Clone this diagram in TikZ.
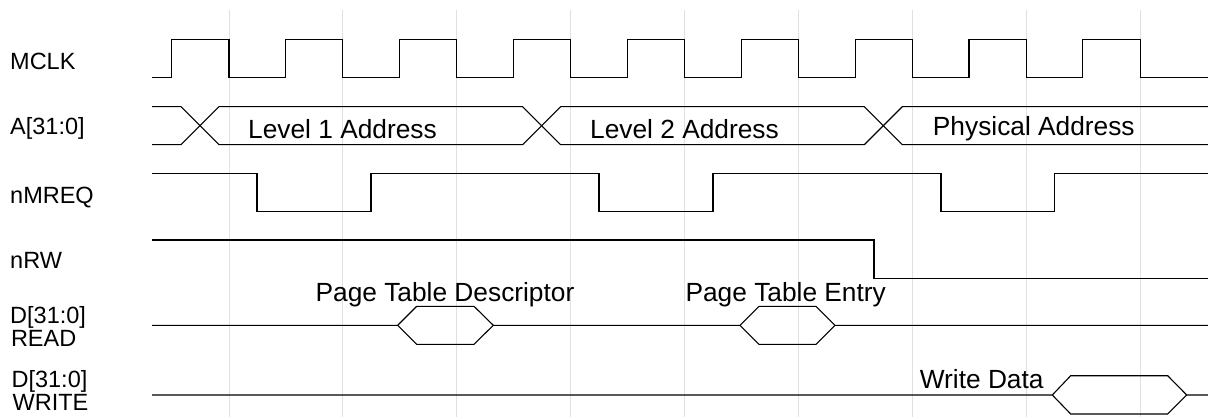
\documentclass[tikz,border=0pt]{standalone}
\usepackage{fontspec}
\setmainfont{Liberation Sans}
\begin{document}
\begin{tikzpicture}[x=1pt,y=-1pt,
  sig/.style={line width=1.1pt,black,line join=miter},
  gridline/.style={line width=1pt,color=black!12},
  lbl/.style={anchor=base west,inner sep=0pt,font=\fontsize{23.5}{26}\selectfont},
  ann/.style={anchor=base,inner sep=0pt,font=\fontsize{26.3}{30}\selectfont}]
\useasboundingbox (0,0) rectangle (1208,417);
\fill[white] (0,0) rectangle (1208,417);
% grid
\foreach \k in {0,...,8}{
  \draw[gridline] ({229+113.9*\k},10) -- ({229+113.9*\k},417);
}
% labels
\node[lbl] (lmclk) at (10,69.3) {MCLK};
\node[lbl] (laddr) at (10,135) {A[31:0]};
\node[lbl] (lmreq) at (10,203.3) {nMREQ};
\node[lbl] (lrw) at (10,268) {nRW};
\node[lbl] (ldr1) at (10,323.3) {D[31:0]};
\node[lbl] (ldr2) at (10.8,346) {READ};
\node[lbl] (ldw1) at (11.4,387.3) {D[31:0]};
\node[lbl] (ldw2) at (12.5,410.7) {WRITE};
% MCLK
\draw[sig] (152,77.7) -- (171.7,77.7) -- (171.7,39.5) -- (229,39.5) -- (229,77.7)
  -- (285.6,77.7) -- (285.6,39.5) -- (342.9,39.5) -- (342.9,77.7)
  -- (399.5,77.7) -- (399.5,39.5) -- (456.8,39.5) -- (456.8,77.7)
  -- (513.4,77.7) -- (513.4,39.5) -- (570.7,39.5) -- (570.7,77.7)
  -- (627.3,77.7) -- (627.3,39.5) -- (684.6,39.5) -- (684.6,77.7)
  -- (741.2,77.7) -- (741.2,39.5) -- (798.5,39.5) -- (798.5,77.7)
  -- (855.1,77.7) -- (855.1,39.5) -- (912.4,39.5) -- (912.4,77.7)
  -- (969,77.7) -- (969,39.5) -- (1026.3,39.5) -- (1026.3,77.7)
  -- (1082.9,77.7) -- (1082.9,39.5) -- (1140.2,39.5) -- (1140.2,77.7)
  -- (1208,77.7);
% A[31:0]
\draw[sig] (152,106.7) -- (181,106.7) -- (219,144.7) -- (522.6,144.7) -- (560.6,106.7)
  -- (864.3,106.7) -- (902.3,144.7) -- (1208,144.7);
\draw[sig] (152,144.7) -- (181,144.7) -- (219,106.7) -- (522.6,106.7) -- (560.6,144.7)
  -- (864.3,144.7) -- (902.3,106.7) -- (1208,106.7);
\node[ann] (a1) at (342.5,139) {Level 1 Address};
\node[ann] (a2) at (684.5,139) {Level 2 Address};
\node[ann] (a3) at (1033.8,136) {Physical Address};
% nMREQ
\draw[sig] (152,173.3) -- (257,173.3) -- (257,211.7) -- (371,211.7) -- (371,173.3)
  -- (599,173.3) -- (599,211.7) -- (713,211.7) -- (713,173.3)
  -- (941,173.3) -- (941,211.7) -- (1054.7,211.7) -- (1054.7,173.3) -- (1208,173.3);
% nRW
\draw[sig] (152,240) -- (874,240) -- (874,278.3) -- (1208,278.3);
% D READ
\draw[sig] (152,325.3) -- (397.7,325.3) -- (416.7,306.3) -- (474,306.3) -- (493.3,325.3)
  -- (740,325.3) -- (759,306.3) -- (816,306.3) -- (835,325.3) -- (1208,325.3);
\draw[sig] (397.7,325.3) -- (416.7,344.3) -- (474,344.3) -- (493.3,325.3);
\draw[sig] (740,325.3) -- (759,344.3) -- (816,344.3) -- (835,325.3);
\node[ann] (d1) at (445,301) {Page Table Descriptor};
\node[ann] (d2) at (785.7,301) {Page Table Entry};
% D WRITE
\draw[sig] (152,395) -- (1052.3,395) -- (1070.7,375.7) -- (1167.7,375.7) -- (1186.7,395) -- (1208,395);
\draw[sig] (1052.3,395) -- (1070.7,414) -- (1167.7,414) -- (1186.7,395);
\node[ann] (w1) at (981.7,388.3) {Write Data};
\end{tikzpicture}
\end{document}
